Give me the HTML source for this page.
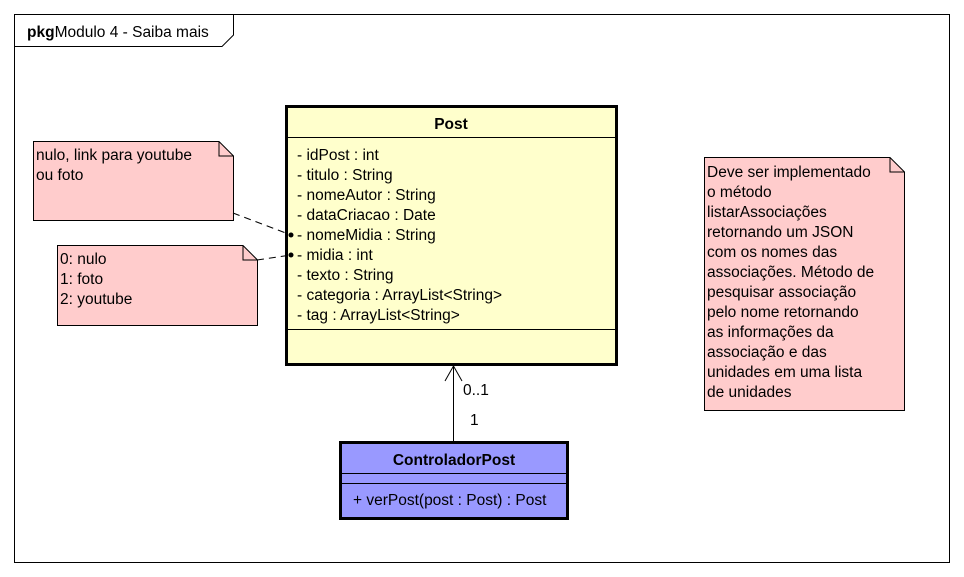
<!DOCTYPE html>
<html><head><meta charset="utf-8"><style>
html,body{margin:0;padding:0;background:#fff;}
svg{display:block;}
text{font-family:"Liberation Sans",sans-serif;font-size:15.5px;fill:#000;}
</style></head><body>
<svg width="964" height="577" viewBox="0 0 964 577" xmlns="http://www.w3.org/2000/svg">
<rect x="0" y="0" width="964" height="577" fill="#fff"/>
<rect x="14.5" y="14.5" width="935" height="548" fill="#fff" stroke="#000" stroke-width="1"/>
<path d="M14.5 46.5 H222 L233.5 35 V14.5" fill="none" stroke="#000"/>
<text x="27" y="37"><tspan font-weight="bold">pkg</tspan>Modulo 4 - Saiba mais</text>

<rect x="286.5" y="106.5" width="330" height="258" fill="#ffffcc" stroke="#000" stroke-width="3"/>
<line x1="287" y1="137.5" x2="616" y2="137.5" stroke="#000"/>
<line x1="287" y1="329.5" x2="616" y2="329.5" stroke="#000"/>
<text x="451" y="129" text-anchor="middle" font-weight="bold">Post</text>
<text x="297" y="160">- idPost : int</text>
<text x="297" y="180">- titulo : String</text>
<text x="297" y="200">- nomeAutor : String</text>
<text x="297" y="220">- dataCriacao : Date</text>
<text x="297" y="240">- nomeMidia : String</text>
<text x="297" y="260">- midia : int</text>
<text x="297" y="280">- texto : String</text>
<text x="297" y="300">- categoria : ArrayList&lt;String&gt;</text>
<text x="297" y="320">- tag : ArrayList&lt;String&gt;</text>

<path d="M33.5 141.5 H219 L233.5 156 V220.5 H33.5 Z" fill="#ffcccc" stroke="#000"/>
<path d="M219 141.5 V156 H233.5" fill="none" stroke="#000"/>
<text x="36" y="160">nulo, link para youtube</text>
<text x="36" y="180">ou foto</text>

<path d="M57.5 245.5 H243 L257.5 260 V325.5 H57.5 Z" fill="#ffcccc" stroke="#000"/>
<path d="M243 245.5 V260 H257.5" fill="none" stroke="#000"/>
<text x="60" y="264">0: nulo</text>
<text x="60" y="284">1: foto</text>
<text x="60" y="304">2: youtube</text>

<path d="M704.5 157.5 H890 L904.5 172 V410.5 H704.5 Z" fill="#ffcccc" stroke="#000"/>
<path d="M890 157.5 V172 H904.5" fill="none" stroke="#000"/>
<text x="707" y="177">Deve ser implementado</text>
<text x="707" y="197">o método</text>
<text x="707" y="217">listarAssociações</text>
<text x="707" y="237">retornando um JSON</text>
<text x="707" y="257">com os nomes das</text>
<text x="707" y="277">associações. Método de</text>
<text x="707" y="297">pesquisar associação</text>
<text x="707" y="317">pelo nome retornando</text>
<text x="707" y="337">as informações da</text>
<text x="707" y="357">associação e das</text>
<text x="707" y="377">unidades em uma lista</text>
<text x="707" y="397">de unidades</text>

<line x1="233" y1="213" x2="291" y2="235" stroke="#000" stroke-dasharray="7,5"/>
<circle cx="291" cy="235" r="2.5" fill="#000"/>
<line x1="257" y1="260" x2="291" y2="255" stroke="#000" stroke-dasharray="7,5"/>
<circle cx="291" cy="255" r="2.5" fill="#000"/>

<line x1="453.5" y1="366" x2="453.5" y2="442" stroke="#000"/>
<path d="M445 381 L453.5 366 L462 381" fill="none" stroke="#000"/>
<text x="463" y="395">0..1</text>
<text x="470" y="425">1</text>

<rect x="340.5" y="442.5" width="227" height="76" fill="#9999ff" stroke="#000" stroke-width="3"/>
<line x1="341" y1="473.5" x2="567" y2="473.5" stroke="#000"/>
<line x1="341" y1="483.5" x2="567" y2="483.5" stroke="#000"/>
<text x="454" y="465" text-anchor="middle" font-weight="bold">ControladorPost</text>
<text x="353" y="505">+ verPost(post : Post) : Post</text>
</svg>
</body></html>
